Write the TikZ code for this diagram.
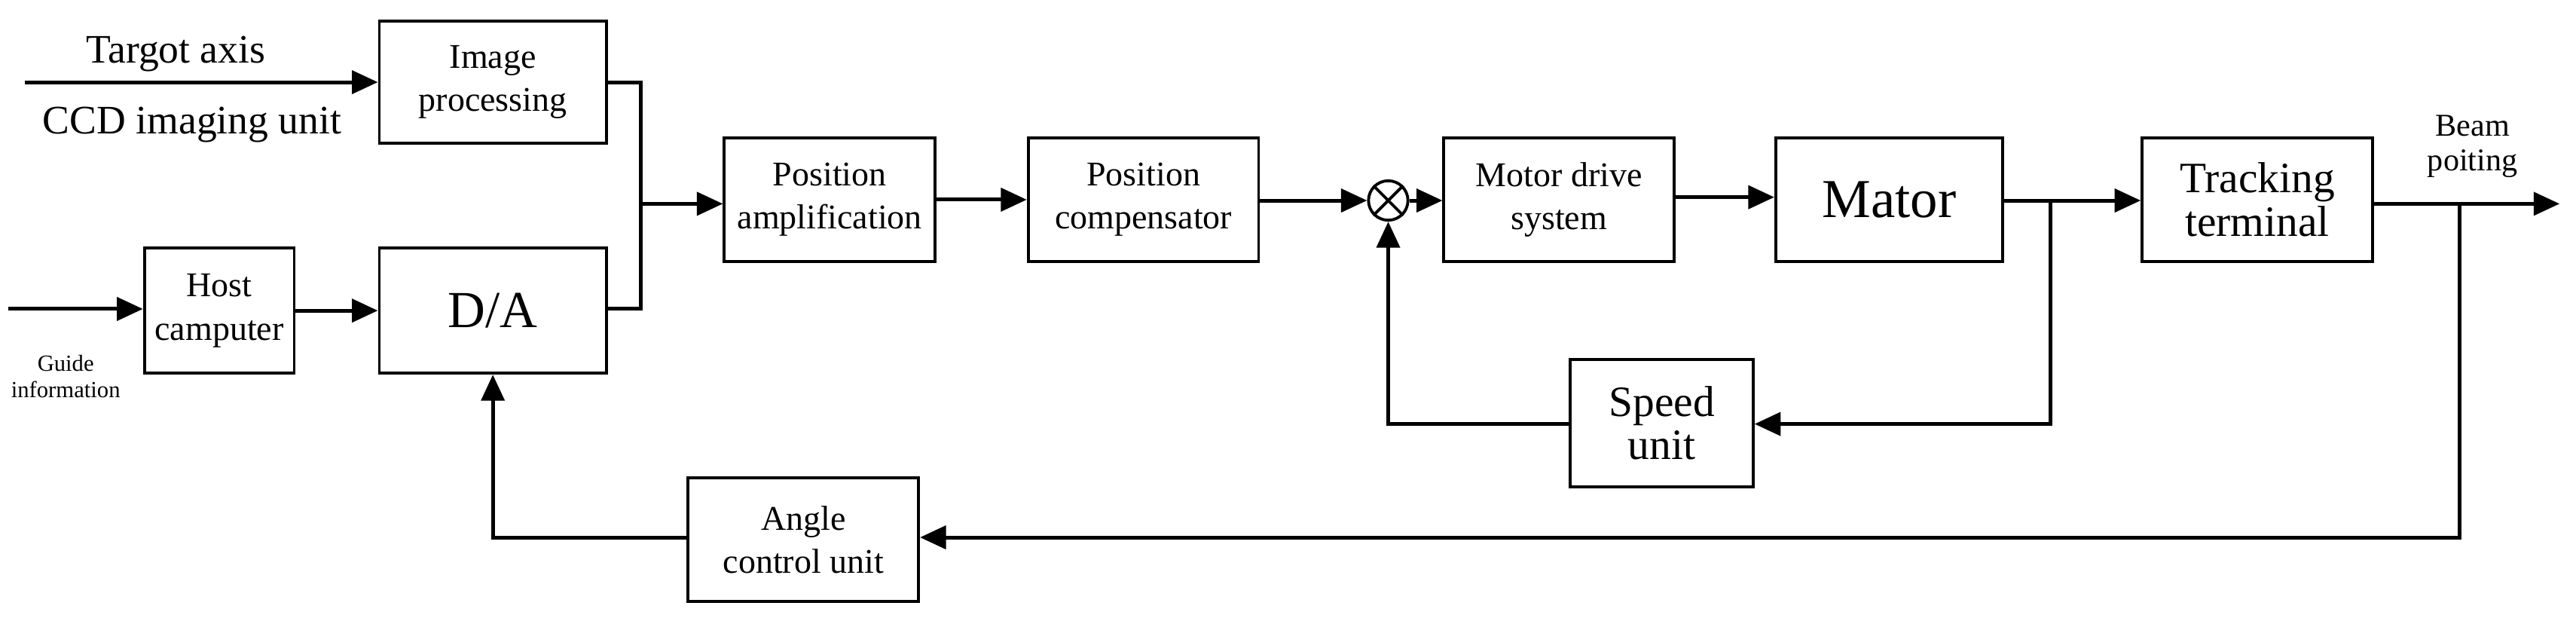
\documentclass[tikz,border=0pt]{standalone}
\usepackage{fontspec}
\setmainfont{Liberation Serif}
\usetikzlibrary{arrows.meta}
\begin{document}
\begin{tikzpicture}[x=0.02cm,y=-0.02cm,
 box/.style={draw,line width=1pt,inner sep=0pt,font=\fontsize{12}{15}\selectfont,align=center},
 ln/.style={line width=1.3pt},
 ar/.style={ln,-{Triangle[length=9pt,width=8pt]}},
 lab/.style={font=\fontsize{14}{16}\selectfont}]
\useasboundingbox (0,0) rectangle (1568,376);
\newcommand{\bx}[6]{\node[box,minimum width=#4*0.02cm-1pt,minimum height=#5*0.02cm-1pt] (#1) at ({(#2+#4/2)},{(#3+#5/2)}) {#6};}
\bx{img}{230}{12}{140}{76}{Image\\processing}
\bx{da}{230}{150}{140}{78}{\fontsize{18}{20}\selectfont D/A}
\bx{host}{87}{150}{93}{78}{Host\\camputer}
\bx{pa}{440}{83}{130}{77}{Position\\amplification}
\bx{pc}{625}{83}{142}{77}{Position\\compensator}
\bx{mds}{878}{83}{142}{77}{Motor drive\\system}
\bx{mat}{1080}{83}{140}{77}{\fontsize{19}{21}\selectfont Mator}
\bx{tt}{1303}{83}{142}{77}{\fontsize{15}{17}\selectfont Tracking\\\fontsize{15}{17}\selectfont terminal}
\bx{spd}{955}{218}{113}{79}{\fontsize{15}{17}\selectfont Speed\\\fontsize{15}{17}\selectfont unit}
\bx{acu}{418}{290}{142}{77}{Angle\\control unit}
\node[draw,circle,line width=1pt,minimum size=24*0.02cm,inner sep=0pt] (sum) at (845,122) {};
\draw[line width=1pt] (sum.north west)--(sum.south east) (sum.north east)--(sum.south west);
\node[lab] at (107,33) {Targot axis};
\node[lab] at (117,76) {CCD imaging unit};
\node[font=\fontsize{8}{9}\selectfont,align=center] at (40,229) {Guide\\information};
\node[font=\fontsize{11}{12}\selectfont,align=center] at (1505,89) {Beam\\poiting};
\coordinate (tin) at (15,50); \coordinate (gin) at (5,188);
\coordinate (j1) at (390,124); \coordinate (j2) at (1248,122); \coordinate (j3) at (1497,124);
\coordinate (out) at (1558,124);
\draw[ar] (tin) -- (img.west|-tin);
\draw[ar] (gin) -- (host.west|-gin);
\draw[ar] (host) -- (da);
\draw[ln] (img.east|-0,50) -| (j1) |- (da.east|-0,188);
\draw[ar] (j1) -- (pa.west|-j1);
\draw[ar] (pa) -- (pc);
\draw[ar] (pc.east|-sum) -- (sum);
\draw[ar] (sum) -- (mds.west|-sum);
\draw[ar] (mds.east|-0,120) -- (mat.west|-0,120);
\draw[ln] (mat.east|-j2) -- (j2);
\draw[ar] (j2) -- (tt.west|-j2);
\draw[ar] (j2) |- (spd.east|-0,258);
\draw[ar] (spd.west|-0,258) -| (sum);
\draw[ar] (tt.east|-out) -- (out);
\draw[ar] (j3) |- (acu.east|-0,327);
\draw[ar] (acu.west|-0,327) -| (da.south-|300,0);
\end{tikzpicture}
\end{document}
